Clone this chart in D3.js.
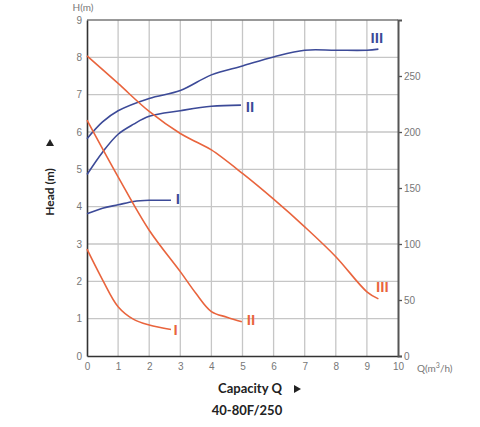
<!DOCTYPE html>
<html>
<head>
<meta charset="utf-8">
<script src="https://cdn.jsdelivr.net/npm/d3@7"></script>
<style>
  body { margin: 0; background: #fff; }
  svg { display: block; font-family: Lato, "Open Sans", sans-serif; }
</style>
</head>
<body>
<div id="chart"></div>
<script>
// capacity Q (m3/h) and readings for each curve
const qHeadI = [0, 0.5, 1, 1.5, 2, 2.7];
const headI = [2.86, 2.04, 1.32, 0.98, 0.83, 0.71];
const qHeadII = [0, 1, 2, 3, 3.5, 4, 4.5, 4.98];
const headII = [6.32, 4.8, 3.37, 2.26, 1.68, 1.19, 1.04, 0.92];
const qHeadIII = [0, 1, 2, 3, 3.5, 4, 5, 6, 7, 8, 9, 9.37];
const headIII = [8.04, 7.3, 6.55, 5.96, 5.74, 5.52, 4.89, 4.2, 3.46, 2.66, 1.72, 1.53];

// right axis curves
const qPowI = [0, 0.5, 1, 1.5, 2, 2.7];
const powI = [127, 132, 135, 138, 139, 139];
const qPowII = [0, 0.5, 1, 1.5, 2, 3, 4, 4.95];
const powII = [162, 182, 198, 207, 214, 219, 223, 224];
const qPowIII = [0, 0.5, 1, 2, 3, 4, 5, 6, 7, 8, 9, 9.37];
const powIII = [194, 209, 219, 230, 237, 251, 259, 267, 273, 273, 273, 274];

const xTicks = [0, 1, 2, 3, 4, 5, 6, 7, 8, 9, 10];
const yTicks = [0, 1, 2, 3, 4, 5, 6, 7, 8, 9];
const rightTicks = [0, 50, 100, 150, 200, 250];

const width = 480, height = 427;
const plotL = 87, plotR = 398, plotT = 20, plotB = 356;
const blue = '#3c4a98';
const orange = '#e9643d';

const svg = d3.select('#chart').append('svg')
    .attr('width', width)
    .attr('height', height);

const x = d3.scaleLinear().domain([0, 10]).range([plotL, plotR]);
const y = d3.scaleLinear().domain([0, 9]).range([plotB, plotT]);
const yRight = d3.scaleLinear().domain([0, 300]).range([plotB, plotT]);

// grid
svg.append('g')
    .selectAll('line')
    .data(xTicks.slice(1, -1))
    .join('line')
    .attr('x1', d => x(d)).attr('x2', d => x(d))
    .attr('y1', plotT).attr('y2', plotB)
    .attr('stroke', '#c6c6c6')
    .attr('stroke-width', 1.3);

svg.append('g')
    .selectAll('line')
    .data(yTicks.slice(1, -1))
    .join('line')
    .attr('x1', plotL).attr('x2', plotR)
    .attr('y1', d => y(d)).attr('y2', d => y(d))
    .attr('stroke', '#c6c6c6')
    .attr('stroke-width', 1.3);

// top border
svg.append('line')
    .attr('x1', plotL).attr('x2', plotR)
    .attr('y1', plotT).attr('y2', plotT)
    .attr('stroke', '#777')
    .attr('stroke-width', 1.3);

// left axis
const yAxis = svg.append('g')
    .attr('transform', `translate(${plotL},0)`)
    .call(d3.axisLeft(y).tickValues(yTicks).tickSize(0).tickPadding(5));
yAxis.select('.domain').attr('stroke', '#333').attr('stroke-width', 1.6);
yAxis.selectAll('text').attr('fill', '#777').style('font-size', '10px');

// bottom axis
const xAxis = svg.append('g')
    .attr('transform', `translate(0,${plotB})`)
    .call(d3.axisBottom(x).tickValues(xTicks).tickSize(0).tickPadding(7));
xAxis.select('.domain').attr('stroke', '#333').attr('stroke-width', 1.6);
xAxis.selectAll('text').attr('fill', '#777').style('font-size', '10px');

// right axis
const rAxis = svg.append('g')
    .attr('transform', `translate(${plotR},0)`)
    .call(d3.axisRight(yRight).tickValues(rightTicks).tickSize(4).tickPadding(2));
rAxis.select('.domain').attr('stroke', '#555').attr('stroke-width', 2);
rAxis.selectAll('.tick line').attr('stroke', '#555').attr('stroke-width', 1.3);
rAxis.selectAll('text').attr('fill', '#777').style('font-size', '10px');

// curves
const headLine = d3.line()
    .x(d => x(d[0]))
    .y(d => y(d[1]))
    .curve(d3.curveCatmullRom.alpha(0.5));
const powLine = d3.line()
    .x(d => x(d[0]))
    .y(d => yRight(d[1]))
    .curve(d3.curveCatmullRom.alpha(0.5));

const powSeries = [[qPowI, powI], [qPowII, powII], [qPowIII, powIII]];
const headSeries = [[qHeadI, headI], [qHeadII, headII], [qHeadIII, headIII]];

powSeries.forEach(([qs, vs]) => {
    svg.append('path')
        .datum(qs.map((q, i) => [q, vs[i]]))
        .attr('d', powLine)
        .attr('fill', 'none')
        .attr('stroke', blue)
        .attr('stroke-width', 1.6);
});

headSeries.forEach(([qs, vs]) => {
    svg.append('path')
        .datum(qs.map((q, i) => [q, vs[i]]))
        .attr('d', headLine)
        .attr('fill', 'none')
        .attr('stroke', orange)
        .attr('stroke-width', 1.6);
});

// curve labels
const powLabels = [
    {t: 'I', q: 2.92, v: 140},
    {t: 'II', q: 5.24, v: 222},
    {t: 'III', q: 9.32, v: 284}
];
const headLabels = [
    {t: 'I', q: 2.85, v: 0.7},
    {t: 'II', q: 5.27, v: 0.96},
    {t: 'III', q: 9.5, v: 1.85}
];

svg.append('g')
    .selectAll('text')
    .data(powLabels)
    .join('text')
    .attr('x', d => x(d.q))
    .attr('y', d => yRight(d.v))
    .attr('dy', '0.35em')
    .attr('text-anchor', 'middle')
    .attr('fill', blue)
    .style('font-size', '14px')
    .style('font-weight', '900')
    .text(d => d.t);

svg.append('g')
    .selectAll('text')
    .data(headLabels)
    .join('text')
    .attr('x', d => x(d.q))
    .attr('y', d => y(d.v))
    .attr('dy', '0.35em')
    .attr('text-anchor', 'middle')
    .attr('fill', orange)
    .style('font-size', '14px')
    .style('font-weight', '900')
    .text(d => d.t);

// axis titles
svg.append('text')
    .attr('x', 83).attr('y', 11)
    .attr('text-anchor', 'middle')
    .attr('fill', '#777')
    .style('font-size', '10px')
    .text('H(m)');

svg.append('text')
    .attr('x', 417).attr('y', 372)
    .attr('fill', '#777')
    .style('font-size', '10px')
    .html('Q(m<tspan dy="-4" font-size="7">3</tspan><tspan dy="4">/h)</tspan>');

svg.append('text')
    .attr('transform', 'translate(54,192) rotate(-90)')
    .attr('text-anchor', 'middle')
    .attr('fill', '#222')
    .style('font-size', '12px')
    .style('font-weight', 'bold')
    .text('Head (m)');

svg.append('path')
    .attr('d', 'M46,146 L50,139 L54,146 Z')
    .attr('fill', '#222');

svg.append('text')
    .attr('x', 250).attr('y', 393)
    .attr('text-anchor', 'middle')
    .attr('fill', '#222')
    .style('font-size', '13px')
    .style('font-weight', 'bold')
    .text('Capacity Q');

svg.append('path')
    .attr('d', 'M294,385 L301,389 L294,393 Z')
    .attr('fill', '#222');

svg.append('text')
    .attr('x', 247).attr('y', 415)
    .attr('text-anchor', 'middle')
    .attr('fill', '#222')
    .style('font-size', '13px')
    .style('font-weight', 'bold')
    .text('40-80F/250');
</script>
</body>
</html>
